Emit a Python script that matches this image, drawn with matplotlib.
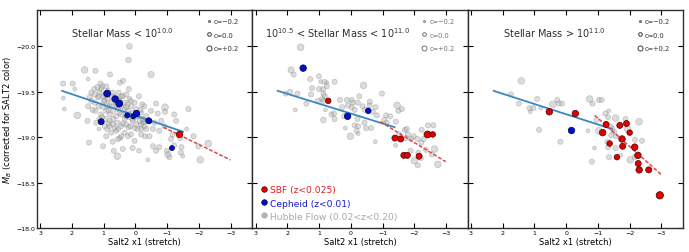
#!/usr/bin/env python3
"""
SN Ia absolute magnitude vs SALT2 stretch, split by host stellar mass
"""

import numpy as np
import matplotlib.pyplot as plt
from matplotlib.lines import Line2D

plt.rcParams["font.family"] = "DejaVu Sans"

# --- panel 1: Stellar Mass < 10^10 -------------------------------------------
hf1_x = [0.19, 0.22, 1.60, 1.26, 0.80, 0.39, 0.49, 1.98, 1.49, 1.91, 1.10, 1.04, 1.30,
         2.27, 2.24, 1.83, 1.51, 1.46, 1.02, 0.72, 0.49, 0.68, 0.57, 0.40, 0.09, -0.11,
         0.21, -0.11, -0.21, 0.89, 1.15, 0.82, 0.55, 0.22, 0.02, -0.18, -0.27, 0.24, -0.30,
         2.28, -0.49, -0.65, -1.02, -0.65, -0.93, -0.93, -1.22, -1.67, -1.28, -1.61, -0.81,
         -0.60, -0.34, -0.28, -0.49, -0.70, -0.55, -0.75, -0.91, -1.12, -1.17, -0.99, -0.55,
         -0.75, -1.22, -1.45, -1.43, -1.49, -1.83, -1.98, -2.29, -2.04, -1.07, -0.39, -0.34,
         -0.23, -0.18, -0.44, -1.41,
         1.39, 1.28, 1.13, 1.18, 1.02, 0.97, 0.87, 0.76, 0.66, 0.61, 0.50, 0.45, 0.34, 0.29,
         0.24, 0.14, 0.08, -0.02, -0.07, -0.18, -0.23, 1.28, 1.16, 1.02, 0.92, 0.81, 0.71,
         0.61, 0.45, 0.34, 0.22, 0.08, -0.02, -0.18, 1.08, 0.95, 0.81, 0.71, 0.57, 0.45, 0.29,
         0.16, 1.39, 1.49, 1.26, 1.13, 0.97, 0.76, 0.61, 0.34, 0.14, -0.07, 0.81, 0.55, 0.40,
         0.19, 0.03, 0.87, 0.71, 1.44, 1.08, 0.92, 0.53, 0.29, 0.03, -0.13, -0.28, 1.23, 0.92,
         0.45, 0.55, 0.03,
         1.20, 0.95, 0.75, 0.55, 0.35, 0.20, 0.10, 0.60, 0.85, 1.00, 0.70, 0.50, 0.30, 0.40,
         0.85, 1.05, 1.35, 0.15, -0.05, 0.65, 0.25, 0.45, 1.15, 0.90, -0.15]
hf1_y = [-20.00, -19.85, -19.74, -19.73, -19.69, -19.62, -19.60, -19.59, -19.64, -19.53,
         -19.59, -19.56, -19.53, -19.43, -19.31, -19.24, -19.18, -18.94, -18.90, -18.95,
         -18.99, -18.85, -18.79, -18.87, -18.88, -18.85, -19.53, -19.45, -19.36, -19.09,
         -19.09, -19.12, -19.09, -19.11, -19.10, -19.09, -19.17, -19.01, -19.01,
         -19.59, -19.69, -18.85, -18.81, -19.37, -19.33, -19.28, -19.25, -19.31, -19.18,
         -19.09, -19.18, -19.16, -19.23, -19.34, -19.29, -19.26, -19.09, -19.07, -19.12,
         -18.98, -19.03, -18.85, -18.90, -18.89, -18.91, -18.89, -18.83, -18.79, -19.01,
         -18.90, -18.93, -18.75, -18.78, -18.75, -19.09, -19.16, -19.03, -19.01, -18.99,
         -19.49, -19.47, -19.50, -19.44, -19.45, -19.40, -19.42, -19.38, -19.44, -19.36,
         -19.40, -19.34, -19.38, -19.33, -19.29, -19.34, -19.27, -19.31, -19.23, -19.27,
         -19.20, -19.38, -19.34, -19.33, -19.29, -19.25, -19.29, -19.23, -19.25, -19.20,
         -19.22, -19.18, -19.14, -19.14, -19.25, -19.20, -19.18, -19.14, -19.16, -19.12,
         -19.14, -19.12, -19.40, -19.34, -19.29, -19.20, -19.12, -19.05, -19.07, -19.05,
         -19.03, -19.09, -19.34, -19.31, -19.45, -19.42, -19.38, -19.51, -19.49, -19.44,
         -19.53, -19.56, -19.49, -19.47, -19.22, -19.18, -19.12, -19.16, -19.01, -19.01,
         -18.98, -18.96,
         -19.55, -19.47, -19.45, -19.42, -19.30, -19.25, -19.20, -19.35, -19.30, -19.40,
         -19.20, -19.27, -19.23, -19.15, -19.15, -19.22, -19.30, -19.40, -19.25, -19.10,
         -19.36, -19.45, -19.45, -19.35, -19.30]
hf1_c = [0.05, 0.05, 0.15, 0, 0, 0, 0, 0, -0.1, -0.1, 0, 0, 0, -0.1, -0.1, 0.15, 0, 0, 0,
         0, 0, 0, 0.15, 0, 0, -0.05, 0, 0, 0, 0, -0.1, 0, 0, 0, 0, 0, 0, 0, 0,
         0, 0.1, 0, 0.1, 0, 0.15, 0, 0, 0, 0, -0.1, 0, 0, 0, 0, 0, 0, 0, 0, 0, 0, 0, 0, 0,
         0, 0, 0, 0, -0.1, 0, 0, 0.15, 0.15, 0, -0.1, 0, 0, 0, 0, 0]
hf1_c = hf1_c + [0.0] * (len(hf1_x) - len(hf1_c))

sbf1_x = [-1.37]
sbf1_y = [-19.04]
sbf1_c = [0.05]
cep1_x = [0.89, 0.64, 0.51, 0.26, 0.07, -0.03, -0.42, 1.08, -1.15]
cep1_y = [-19.48, -19.42, -19.37, -19.24, -19.23, -19.26, -19.18, -19.17, -18.88]
cep1_c = [0.1, 0.05, 0.1, -0.1, -0.1, 0.05, 0.0, 0.0, -0.1]

# --- panel 2: 10^10.5 < Stellar Mass < 10^11 ---------------------------------
hf2_x = [1.58, 1.88, 1.80, 2.05, 1.91, 1.68, 1.75, 1.40, 1.28, 1.22, 1.00, 0.95, 0.76,
         0.51, 0.87, 0.86, 0.82, 0.90, 1.03, 1.25, 0.80, 0.86, 0.53, 0.51, 0.34, 0.27,
         0.12, -0.03, -0.06, -0.03, 0.09, -0.12, -0.22, -0.27, -0.40, -0.60, -0.59, -0.37,
         -0.45, -0.78, -0.69, -0.82, -0.98, -0.21, -0.43, -0.64, -0.23, -0.12, -0.18, -0.23,
         0.01, 0.17, -1.11, -1.06, -1.13, -1.24, -1.42, -1.46, -1.50, -1.61, -1.70, -1.76,
         -1.80, -1.90, -1.98, -2.10, -2.22, -2.29, -2.37, -2.23, -2.43, -2.60, -2.64, -2.55,
         -2.37, -2.13, -2.21, -2.00, -2.11, -2.74, -1.41, -1.52, -1.57, -1.73, -1.88, -0.77,
         -0.48, 0.21, 0.61, 0.83, 0.75, 0.86, 1.00]
hf2_y = [-19.99, -19.74, -19.69, -19.48, -19.50, -19.48, -19.30, -19.37, -19.64, -19.54,
         -19.67, -19.61, -19.60, -19.61, -19.53, -19.48, -19.45, -19.42, -19.40, -19.47,
         -19.30, -19.19, -19.26, -19.20, -19.41, -19.33, -19.41, -19.41, -19.38, -19.33,
         -19.35, -19.30, -19.38, -19.45, -19.57, -19.39, -19.35, -19.34, -19.30, -19.33,
         -19.28, -19.24, -19.48, -19.20, -19.16, -19.10, -19.12, -19.13, -19.07, -19.04,
         -19.01, -19.10, -19.24, -19.19, -19.16, -19.23, -19.17, -19.35, -19.29, -19.31,
         -19.08, -19.09, -19.03, -18.98, -19.01, -18.98, -18.94, -18.98, -19.03, -19.08,
         -19.13, -19.13, -18.87, -18.81, -18.86, -18.83, -18.77, -18.74, -18.69, -18.70,
         -18.91, -19.03, -18.98, -18.99, -18.85, -18.95, -19.10, -19.23, -19.25, -19.61,
         -19.56, -19.40, -19.53]
hf2_c = [0.15, 0.1, 0, 0, 0, 0, -0.1, 0, 0, 0, 0, -0.1, -0.1, 0, 0, 0, 0, 0, 0, 0, -0.1,
         0.05, 0, 0, 0, 0, 0, 0, 0, 0, 0, 0, 0, 0, 0.15, 0, 0, 0, 0, 0, 0, 0, 0, 0, 0, 0, 0,
         0, 0, -0.1, 0.15, -0.1, 0, 0, 0, 0, 0, 0.15, 0, 0, 0, 0, 0, 0, 0, 0, 0, 0, 0, 0, 0,
         0, 0.15, 0, 0, 0, 0, 0.15, 0, 0.15, -0.1, 0, 0, 0, 0, -0.1, 0, 0, 0, 0, 0, 0, 0]

sbf2_x = [0.71, -1.39, -1.57, -1.67, -1.78, -2.15, -2.42, -2.58]
sbf2_y = [-19.40, -18.99, -18.98, -18.80, -18.80, -18.79, -19.03, -19.03]
sbf2_c = [-0.05, 0.0, 0.0, 0.0, 0.0, 0.0, 0.1, -0.05]
cep2_x = [1.50, 0.10, -0.55]
cep2_y = [-19.76, -19.23, -19.29]
cep2_c = [0.05, 0.05, -0.05]

# --- panel 3: Stellar Mass > 10^11 -------------------------------------------
hf3_x = [1.41, 1.74, 1.49, 1.15, 1.13, 1.03, 0.91, 0.80, 0.42, 0.28, 0.23, 0.13, 0.85,
         0.18, -0.69, -0.74, -0.83, -1.03, -1.12, -1.24, -1.34, -1.56, -1.32, -0.96, -1.03,
         -1.40, -1.45, -1.51, -1.57, -1.42, -1.94, -2.30, -2.17, -2.39, -1.30, -1.32, -0.89,
         -1.56, -1.72, -1.35, -0.81, -2.02, -2.16, -1.87]
hf3_y = [-19.62, -19.47, -19.37, -19.32, -19.28, -19.32, -19.42, -19.32, -19.36, -19.41,
         -19.37, -19.37, -19.08, -18.95, -19.07, -19.42, -19.37, -19.41, -19.41, -19.26,
         -19.29, -19.21, -19.22, -19.19, -19.07, -19.12, -19.09, -19.06, -19.01, -19.02,
         -19.09, -19.17, -18.97, -18.96, -18.95, -18.89, -18.88, -18.88, -18.80, -18.78,
         -18.73, -18.75, -18.78, -19.20]
hf3_c = [0.15, 0, 0, 0, -0.1, 0, 0, -0.1, 0.15, 0, 0, 0, 0, 0, -0.1, 0.15, 0, 0, 0, 0,
         -0.1, 0.15, 0, 0, 0.15, 0, 0, 0, 0, 0, 0.15, 0.15, 0, 0, 0, 0, -0.1, 0, -0.1, 0,
         0, 0.15, 0, 0]

sbf3_x = [0.53, -0.29, -1.26, -1.15, -1.69, -1.90, -2.00, -1.76, -1.37, -1.78, -2.16,
          -1.60, -2.26, -2.27, -2.30, -2.60, -2.95]
sbf3_y = [-19.28, -19.26, -19.14, -19.05, -19.13, -19.15, -19.05, -18.98, -18.93, -18.90,
          -18.89, -18.78, -18.80, -18.71, -18.64, -18.64, -18.36]
sbf3_c = [0.05, 0.05, 0.0, 0.05, 0.0, 0.0, -0.05, 0.05, -0.05, 0.0, 0.05, -0.05, 0.05,
          0.0, 0.05, 0.0, 0.15]
cep3_x = [-0.14]
cep3_y = [-19.08]
cep3_c = [0.05]

# fitted relations: (x0, x1), (y0, y1)
blue_fit_x = [(2.31, -1.50), (2.30, -1.38), (2.28, -1.44)]
blue_fit_y = [(-19.51, -19.06), (-19.51, -19.11), (-19.51, -19.09)]
red_fit_x = [(-0.88, -2.99), (-0.93, -2.99), (-0.90, -2.99)]
red_fit_y = [(-19.11, -18.75), (-19.17, -18.73), (-19.24, -18.59)]

titles = [r"Stellar Mass < $10^{10.0}$",
          r"$10^{10.5}$ < Stellar Mass < $10^{11.0}$",
          r"Stellar Mass > $10^{11.0}$"]
title_x = [0.16, 0.06, 0.165]

x_ticks = [3, 2, 1, 0, -1, -2, -3]
y_ticks = [-20.0, -19.5, -19.0, -18.5, -18.0]

RED = "#e00000"
BLUE = "#0010c8"
GRAY = "#b4b4b4"


def msize(c):
    """
    Marker area from SALT2 color c
    """
    return 5 + 60 * (np.asarray(c) + 0.15)


fig, axes = plt.subplots(1, 3, figsize=(6.89, 2.53), dpi=100, sharey=True)
fig.subplots_adjust(left=37 / 689, right=683 / 689, bottom=1 - 229 / 253,
                    top=1 - 11 / 253, wspace=0)

panels = [
    (hf1_x, hf1_y, hf1_c, sbf1_x, sbf1_y, sbf1_c, cep1_x, cep1_y, cep1_c),
    (hf2_x, hf2_y, hf2_c, sbf2_x, sbf2_y, sbf2_c, cep2_x, cep2_y, cep2_c),
    (hf3_x, hf3_y, hf3_c, sbf3_x, sbf3_y, sbf3_c, cep3_x, cep3_y, cep3_c),
]

for i, (ax, p) in enumerate(zip(axes, panels)):
    hx, hy, hc, sx, sy, sc, cx, cy, cc = p
    ax.scatter(hx, hy, s=msize(hc), facecolor="#a8a8a8", edgecolor="#808080",
               linewidth=0.5, alpha=0.4, zorder=2)
    ax.plot(blue_fit_x[i], blue_fit_y[i], color="#3a88c0", lw=1.3, zorder=3)
    ax.plot(red_fit_x[i], red_fit_y[i], color="#e04848", lw=1.1, ls=(0, (2.5, 1.2)),
            zorder=3)
    ax.scatter(sx, sy, s=msize(sc) + 5, facecolor=RED, edgecolor="#500000",
               linewidth=0.5, zorder=4)
    ax.scatter(cx, cy, s=msize(cc) + 5, facecolor=BLUE, edgecolor="#000040",
               linewidth=0.5, zorder=4)

    ax.set_xlim(3.1, -3.68)
    ax.set_ylim(-18.0, -20.4)
    ax.set_xticks(x_ticks)
    ax.set_xticklabels([f"{t:d}".replace("-", "\u2212") for t in x_ticks])
    ax.set_yticks(y_ticks)
    ax.tick_params(direction="in", top=True, right=True, length=3.5, width=0.8,
                   labelsize=4.5, pad=1.5)
    for sp in ax.spines.values():
        sp.set_color("#303030")
        sp.set_linewidth(1.0)
    ax.set_xlabel("Salt2 x1 (stretch)", fontsize=6, labelpad=1.5)
    ax.text(title_x[i], 0.90, titles[i], transform=ax.transAxes, fontsize=7,
            color="#303030", va="center")

    # size key for SALT2 color
    size_handles = [
        Line2D([], [], ls="none", marker="o", markersize=ms, mfc="none",
               mec="#606060", mew=0.6)
        for ms in (1.3, 2.6, 3.6)
    ]
    key = ax.legend(size_handles, ["c=\u22120.2", "c=0.0", "c=+0.2"],
                    loc="upper right", bbox_to_anchor=(0.96, 0.985), frameon=False,
                    fontsize=4.8, labelcolor="#707070", handletextpad=0.2,
                    handlelength=1.0, labelspacing=1.15, borderaxespad=0.3)
    ax.add_artist(key)

axes[0].set_yticklabels([f"{t:.1f}".replace("-", "\u2212") for t in y_ticks])
axes[0].set_ylabel(r"$M_B$ (corrected for SALT2 color)", fontsize=6, labelpad=1.5)

# sample legend in the middle panel
sample_handles = [
    Line2D([], [], ls="none", marker="o", markersize=4, mfc=RED, mec="#500000", mew=0.5),
    Line2D([], [], ls="none", marker="o", markersize=4, mfc=BLUE, mec="#000040", mew=0.5),
    Line2D([], [], ls="none", marker="o", markersize=4, mfc=GRAY, mec=GRAY, mew=0.5),
]
axes[1].legend(sample_handles,
               ["SBF (z<0.025)", "Cepheid (z<0.01)", "Hubble Flow (0.02<z<0.20)"],
               loc="lower left", frameon=False, fontsize=6.6,
               labelcolor=["#e02020", "#1818c8", "#a8a8a8"], handletextpad=0.15,
               handlelength=1.0, labelspacing=0.45, borderaxespad=0.4)

plt.savefig("out.png", dpi=100)
